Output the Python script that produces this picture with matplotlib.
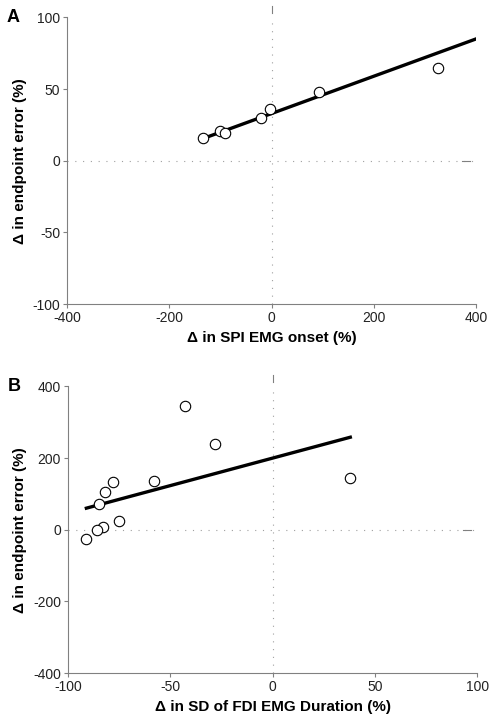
import matplotlib
matplotlib.use("Agg")
import matplotlib.pyplot as plt

plt.rcParams['font.family'] = ['Liberation Sans', 'DejaVu Sans']
plt.rcParams['axes.unicode_minus'] = False

# panel A: change in SPI EMG onset vs change in endpoint error
a_x = [-135, -100, -92, -20, -3, 93, 325]
a_y = [16, 21, 19, 30, 36, 48, 65]
a_fit_x = [-130, 400]
a_fit_y = [16, 85]

# panel B: change in SD of FDI EMG duration vs change in endpoint error
b_x = [-43, -28, 38, -58, -78, -82, -85, -75, -83, -86, -91]
b_y = [344, 238, 143, 136, 133, 105, 73, 23, 7, 0, -25]
b_fit_x = [-91, 38]
b_fit_y = [60, 258]

panels = [
    ("A", a_x, a_y, a_fit_x, a_fit_y, (-400, 400), (-100, 100),
     [-400, -200, 0, 200, 400], [-100, -50, 0, 50, 100],
     "\u0394 in SPI EMG onset (%)", [0.135, 0.580, 0.825, 0.396]),
    ("B", b_x, b_y, b_fit_x, b_fit_y, (-100, 100), (-400, 400),
     [-100, -50, 0, 50, 100], [-400, -200, 0, 200, 400],
     "\u0394 in SD of FDI EMG Duration (%)", [0.137, 0.0704, 0.825, 0.396]),
]

fig = plt.figure(figsize=(4.96, 7.24), dpi=100)
grey = "#808080"

for letter, xs, ys, fx, fy, xlim, ylim, xt, yt, xlabel, rect in panels:
    ax = fig.add_axes(rect)
    ax.set_xlim(xlim)
    ax.set_ylim(ylim)
    ax.set_xticks(xt)
    ax.set_yticks(yt)
    ax.tick_params(direction="out", length=3, width=0.8, color=grey,
                   labelsize=10, labelcolor="#222222", pad=2)
    for s in ["top", "right"]:
        ax.spines[s].set_visible(False)
    for s in ["left", "bottom"]:
        ax.spines[s].set_color(grey)
        ax.spines[s].set_linewidth(0.8)

    # dotted zero lines with little end marks
    ax.axvline(0, color="#a0a0a0", ls=(0, (1, 6)), lw=0.8, zorder=0)
    ax.axhline(0, color="#a0a0a0", ls=(0, (1, 6)), lw=0.8, zorder=0)
    span_y = ylim[1] - ylim[0]
    span_x = xlim[1] - xlim[0]
    ax.plot([0, 0], [ylim[1] + 0.015 * span_y, ylim[1] + 0.04 * span_y],
            color=grey, lw=0.8, clip_on=False)
    ax.plot([xlim[1] - 0.035 * span_x, xlim[1] - 0.015 * span_x], [0, 0],
            color=grey, lw=0.8)

    ax.plot(fx, fy, color="black", lw=2.4, zorder=2)
    ax.plot(xs, ys, "o", ms=7.5, mfc="white", mec="black", mew=0.8, zorder=3)

    ax.set_xlabel(xlabel, fontsize=11, fontweight="bold", labelpad=4)
    ax.set_ylabel("\u0394 in endpoint error (%)", fontsize=11,
                  fontweight="bold", labelpad=4)
    ax.text(-0.132, 1.0, letter, transform=ax.transAxes, fontsize=13,
            fontweight="bold", ha="center", va="center")

fig.savefig("out.png", dpi=100)
